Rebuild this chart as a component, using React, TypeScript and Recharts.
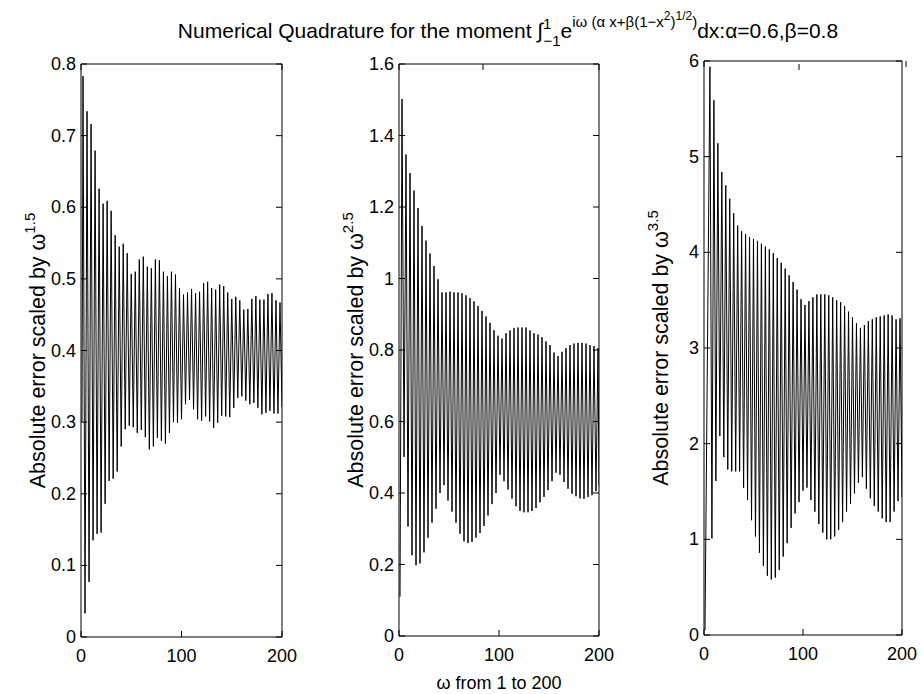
import React from "react";
import { LineChart, Line, XAxis, YAxis } from "recharts";

const FONT = "'Liberation Sans', Arial, Helvetica, sans-serif";
const W = 923;
const H = 694;

// ---- axis ticks ----
const omegaTicks = [0, 100, 200];
const yTicks1 = [0, 0.1, 0.2, 0.3, 0.4, 0.5, 0.6, 0.7, 0.8];
const yTicks2 = [0, 0.2, 0.4, 0.6, 0.8, 1, 1.2, 1.4, 1.6];
const yTicks3 = [0, 1, 2, 3, 4, 5, 6];

// ---- panel 1: error * omega^1.5 ----
const start1 = 0.3;
const peaks1 = [
  0.783, 0.734, 0.716, 0.679, 0.626, 0.605, 0.609, 0.595, 0.561, 0.545,
  0.549, 0.536, 0.507, 0.51, 0.527, 0.531, 0.517, 0.515, 0.527, 0.526,
  0.51, 0.504, 0.51, 0.506, 0.487, 0.478, 0.481, 0.486, 0.48, 0.482,
  0.494, 0.496, 0.487, 0.485, 0.492, 0.49, 0.481, 0.472, 0.475, 0.47,
  0.457, 0.458, 0.472, 0.476, 0.471, 0.471, 0.479, 0.48, 0.47, 0.467,
];
const troughs1 = [
  0.033, 0.077, 0.135, 0.144, 0.146, 0.186, 0.218, 0.221, 0.231, 0.266,
  0.29, 0.295, 0.293, 0.285, 0.289, 0.279, 0.262, 0.266, 0.278, 0.274,
  0.27, 0.285, 0.3, 0.299, 0.304, 0.325, 0.331, 0.318, 0.304, 0.302,
  0.308, 0.301, 0.292, 0.299, 0.309, 0.308, 0.307, 0.32, 0.334, 0.336,
  0.33, 0.325, 0.327, 0.32, 0.311, 0.313, 0.316, 0.312, 0.312, 0.321,
];

// ---- panel 2: error * omega^2.5 ----
const start2 = 0.11;
const peaks2 = [
  1.502, 1.347, 1.295, 1.246, 1.197, 1.147, 1.106, 1.07, 1.035, 0.998,
  0.961, 0.961, 0.963, 0.961, 0.961, 0.959, 0.953, 0.945, 0.936, 0.923,
  0.909, 0.894, 0.876, 0.855, 0.84, 0.832, 0.847, 0.855, 0.861, 0.863,
  0.863, 0.863, 0.855, 0.847, 0.843, 0.836, 0.824, 0.814, 0.793, 0.783,
  0.795, 0.805, 0.814, 0.818, 0.82, 0.82, 0.818, 0.814, 0.811, 0.805,
];
const troughs2 = [
  0.501, 0.306, 0.226, 0.198, 0.203, 0.234, 0.275, 0.317, 0.356, 0.4,
  0.422, 0.379, 0.348, 0.317, 0.286, 0.265, 0.26, 0.263, 0.275, 0.288,
  0.308, 0.337, 0.369, 0.4, 0.451, 0.433, 0.41, 0.384, 0.363, 0.35,
  0.346, 0.346, 0.35, 0.358, 0.374, 0.389, 0.408, 0.433, 0.457, 0.451,
  0.431, 0.412, 0.398, 0.391, 0.385, 0.384, 0.389, 0.394, 0.405,
];
const end2 = 0.42;

// ---- panel 3: error * omega^3.5 ----
const start3 = 0.05;
const peaks3 = [
  5.94, 5.59, 5.14, 4.84, 4.7, 4.56, 4.41, 4.28, 4.22, 4.19,
  4.16, 4.14, 4.12, 4.09, 4.06, 4.03, 3.99, 3.94, 3.89, 3.83,
  3.76, 3.69, 3.61, 3.51, 3.45, 3.49, 3.53, 3.56, 3.56, 3.56,
  3.55, 3.53, 3.5, 3.48, 3.44, 3.38, 3.32, 3.26, 3.21, 3.24,
  3.28, 3.3, 3.32, 3.33, 3.34, 3.35, 3.34, 3.3, 3.31,
];
const troughs3 = [
  1.01, 1.61, 2.08, 1.86, 1.73, 1.71, 1.71, 1.71, 1.54, 1.41,
  1.2, 1.03, 0.86, 0.72, 0.62, 0.58, 0.6, 0.68, 0.82, 0.96,
  1.12, 1.27, 1.39, 1.51, 1.54, 1.41, 1.29, 1.16, 1.07, 1.0,
  1.0, 1.03, 1.1, 1.18, 1.29, 1.37, 1.48, 1.59, 1.65, 1.53,
  1.43, 1.35, 1.29, 1.22, 1.18, 1.18, 1.29, 1.4,
];
const end3 = 1.44;

type Pt = { w: number; v: number };

function build(
  startV: number,
  firstPeakW: number,
  peaks: number[],
  troughs: number[],
  endV?: number
): Pt[] {
  const pts: Pt[] = [{ w: 1, v: startV }];
  peaks.forEach((p, i) => {
    pts.push({ w: firstPeakW + 4 * i, v: p });
    if (i < troughs.length) pts.push({ w: firstPeakW + 2 + 4 * i, v: troughs[i] });
  });
  if (endV !== undefined) pts.push({ w: 200, v: endV });
  return pts;
}

const data1 = build(start1, 2, peaks1, troughs1);
const data2 = build(start2, 3, peaks2, troughs2, end2);
const data3 = build(start3, 6, peaks3, troughs3, end3);

const fmt = (v: number) => String(Math.round(v * 10) / 10);
const TICK_FS = 18;

const BottomTick = (p: any) => (
  <g>
    <line x1={p.x} x2={p.x} y1={p.y} y2={p.y - 6} stroke="#000" />
    <text x={p.x} y={p.y + 25} textAnchor="middle" fontFamily={FONT} fontSize={TICK_FS} fill="#000">
      {fmt(p.payload.value)}
    </text>
  </g>
);
const TopTick = (p: any) => <line x1={p.x} x2={p.x} y1={p.y} y2={p.y + 6} stroke="#000" />;
const LeftTick = (p: any) => (
  <g>
    <line x1={p.x} x2={p.x + 6} y1={p.y} y2={p.y} stroke="#000" />
    <text x={p.x - 5} y={p.y + 6} textAnchor="end" fontFamily={FONT} fontSize={TICK_FS} fill="#000">
      {fmt(p.payload.value)}
    </text>
  </g>
);
const RightTick = (p: any) => <line x1={p.x} x2={p.x - 6} y1={p.y} y2={p.y} stroke="#000" />;

const makeYLabel = (exp: string) => (props: any) => {
  const vb = props.viewBox || { x: 0, y: 0, width: 0, height: 0 };
  const cx = vb.x + (vb.width || 0) - 36;
  const cy = vb.y + vb.height / 2;
  return (
    <text
      transform={`translate(${cx},${cy}) rotate(-90)`}
      textAnchor="middle"
      fontFamily={FONT}
      fontSize={21.5}
      fill="#000"
    >
      Absolute error scaled by ω
      <tspan dy={-10} fontSize={15}>
        {exp}
      </tspan>
    </text>
  );
};

const XLabel = (props: any) => {
  const vb = props.viewBox || { x: 0, y: 0, width: 0, height: 0 };
  return (
    <text x={vb.x + vb.width / 2} y={vb.y + 53} textAnchor="middle" fontFamily={FONT} fontSize={18} fill="#000">
      ω from 1 to 200
    </text>
  );
};

type PanelProps = {
  data: Pt[];
  yMax: number;
  yTicks: number[];
  exp: string;
  left: number;
  right: number;
  top: number;
  bottom: number;
  xLabel?: boolean;
};

function Panel({ data, yMax, yTicks, exp, left, right, top, bottom, xLabel }: PanelProps) {
  return (
    <LineChart
      width={W}
      height={H}
      data={data}
      margin={{ left: left - 1, right: W - right - 1, top: top - 1, bottom: H - bottom - 1 }}
      style={{ position: "absolute", left: 0, top: 0 }}
    >
      <XAxis
        xAxisId="b"
        dataKey="w"
        type="number"
        domain={[0, 200]}
        ticks={omegaTicks}
        interval={0}
        allowDataOverflow
        height={1}
        tickSize={0}
        tickMargin={0}
        tickLine={false}
        tick={BottomTick}
        axisLine={{ stroke: "#000" }}
        label={xLabel ? XLabel : undefined}
      />
      <XAxis
        xAxisId="t"
        orientation="top"
        type="number"
        domain={[0, 200]}
        ticks={omegaTicks}
        interval={0}
        allowDataOverflow
        height={1}
        tickSize={0}
        tickMargin={0}
        tickLine={false}
        tick={TopTick}
        axisLine={{ stroke: "#000" }}
      />
      <YAxis
        yAxisId="l"
        type="number"
        domain={[0, yMax]}
        ticks={yTicks}
        interval={0}
        allowDataOverflow
        width={1}
        tickSize={0}
        tickMargin={0}
        tickLine={false}
        tick={LeftTick}
        axisLine={{ stroke: "#000" }}
        label={makeYLabel(exp)}
      />
      <YAxis
        yAxisId="r"
        orientation="right"
        type="number"
        domain={[0, yMax]}
        ticks={yTicks}
        interval={0}
        allowDataOverflow
        width={1}
        tickSize={0}
        tickMargin={0}
        tickLine={false}
        tick={RightTick}
        axisLine={{ stroke: "#000" }}
      />
      <Line
        xAxisId="b"
        yAxisId="l"
        type="linear"
        dataKey="v"
        stroke="#000"
        strokeWidth={1}
        dot={false}
        activeDot={false}
        isAnimationActive={false}
      />
    </LineChart>
  );
}

function Title() {
  return (
    <svg width={W} height={60} style={{ position: "absolute", left: 0, top: 0 }}>
      <text x={508} y={38} textAnchor="middle" fontFamily={FONT} fontSize={21} fill="#000">
        Numerical Quadrature for the moment ∫
        <tspan fontSize={15} dy={-9}>1</tspan>
        <tspan fontSize={15} dx={-8} dy={17}>−1</tspan>
        <tspan fontSize={21} dy={-8}>e</tspan>
        <tspan fontSize={15} dy={-11}>iω (α x+β(1−x</tspan>
        <tspan fontSize={12} dy={-7}>2</tspan>
        <tspan fontSize={15} dy={7}>)</tspan>
        <tspan fontSize={12} dy={-7}>1/2</tspan>
        <tspan fontSize={15} dy={7}>)</tspan>
        <tspan fontSize={21} dy={11}>dx:α=0.6,β=0.8</tspan>
      </text>
    </svg>
  );
}

export default function App() {
  return (
    <div style={{ position: "absolute", left: 0, top: 0, width: W, height: H, background: "#fff" }}>
      <Panel data={data1} yMax={0.8} yTicks={yTicks1} exp="1.5" left={81} right={282} top={64} bottom={637} />
      <Panel data={data2} yMax={1.6} yTicks={yTicks2} exp="2.5" left={399} right={599} top={64} bottom={636} xLabel />
      <Panel data={data3} yMax={6} yTicks={yTicks3} exp="3.5" left={704} right={902} top={61} bottom={635} />
      <Title />
    </div>
  );
}
